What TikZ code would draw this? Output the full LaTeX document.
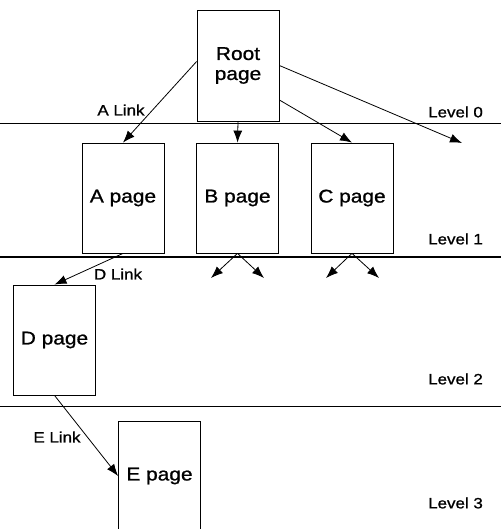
\documentclass[tikz,border=0pt]{standalone}
\usepackage{fontspec}
\setmainfont[FakeStretch=1.13,FakeBold=1]{Liberation Sans}
\usetikzlibrary{arrows.meta}
\begin{document}
\begin{tikzpicture}[x=1pt,y=-1pt,
  page/.style={draw, line width=0.8pt, minimum width=82pt, minimum height=110pt, inner sep=0pt, align=center, font=\fontsize{18.5}{20}\selectfont},
  link/.style={-{Latex[length=12pt,width=9pt]}, line width=0.8pt},
  lvl/.style={line width=1pt},
  lbl/.style={font=\fontsize{15}{16}\selectfont, inner sep=0pt},
]
\clip (0,0) rectangle (501,529);
\useasboundingbox (0,0) rectangle (501,529);
% level lines
\coordinate (l0a) at (0,124); \coordinate (l0b) at (501,124);
\coordinate (l1a) at (0,257); \coordinate (l1b) at (501,257);
\coordinate (l2a) at (0,406); \coordinate (l2b) at (501,406);
\draw[lvl] (l0a) -- (l0b);
\draw[lvl, line width=1.4pt] (l1a) -- (l1b);
\draw[lvl] (l2a) -- (l2b);
% pages
\node[page, minimum height=111pt] (root) at (238,65.5) {Root\\page};
\node[page] (A) at (123,198) {A page};
\node[page] (B) at (237.5,198) {B page};
\node[page] (C) at (352,198) {C page};
\node[page] (D) at (54.5,340) {D page};
\node[page] (E) at (159.5,476) {E page};
% free ends
\coordinate (far) at (462,143);
\coordinate (b1) at (211,278); \coordinate (b2) at (264,278);
\coordinate (c1) at (326,278); \coordinate (c2) at (379,278);
% links
\draw[link] ([yshift=4pt]root.west) -- (A.north);
\draw[link] (root.south) -- (B.north);
\draw[link] ([yshift=-34.5pt]root.east) -- (C.north);
\draw[link] (root.east) -- (far);
\draw[link] (B.south) -- (b1);
\draw[link] (B.south) -- (b2);
\draw[link] (C.south) -- (c1);
\draw[link] (C.south) -- (c2);
\draw[link] (A.south) -- (D.north);
\draw[link] (D.south) -- (E.west);
% labels
\node[lbl] (la) at (121,110) {A Link};
\node[lbl] (ld) at (118,274) {D Link};
\node[lbl] (le) at (57,437) {E Link};
\node[lbl, anchor=west] (lv0) at (428,112) {Level 0};
\node[lbl, anchor=west] (lv1) at (428,239) {Level 1};
\node[lbl, anchor=west] (lv2) at (428,379) {Level 2};
\node[lbl, anchor=west] (lv3) at (428,503) {Level 3};
\end{tikzpicture}
\end{document}
